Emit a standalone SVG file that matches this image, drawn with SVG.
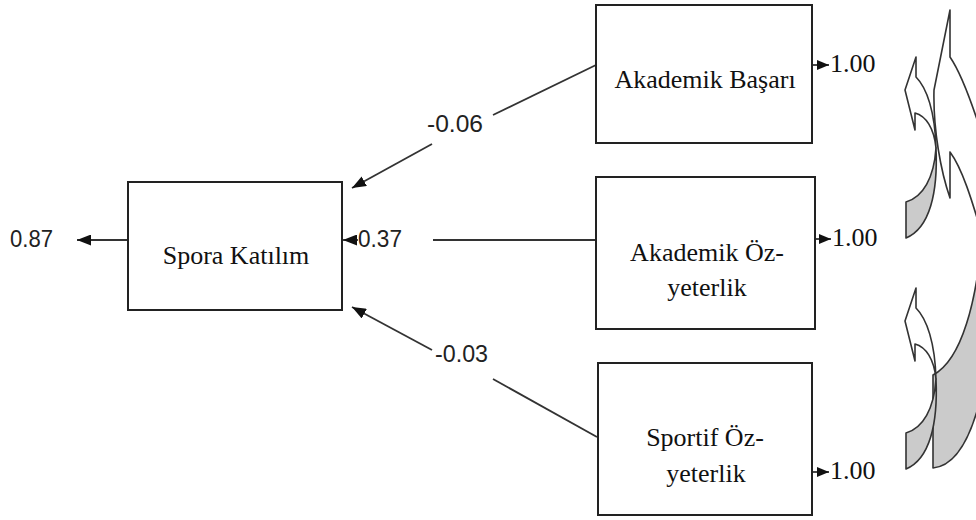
<svg xmlns="http://www.w3.org/2000/svg" width="976" height="520" viewBox="0 0 976 520">
<defs>
<style>
.box{fill:#fff;stroke:#222;stroke-width:2}
.nt{font-family:"Liberation Serif","Times New Roman",serif;font-size:26px;fill:#111;text-anchor:middle}
.lbl{font-family:"Liberation Sans",Arial,sans-serif;font-size:24px;fill:#222}
.val{font-family:"Liberation Serif","Times New Roman",serif;font-size:26px;fill:#111}
.con{fill:none;stroke:#333;stroke-width:1.8}
.front{fill:#fff;stroke:#333;stroke-width:1.6;stroke-linejoin:round}
.back{fill:#cbcbcb;stroke:#333;stroke-width:1.6;stroke-linejoin:round}
</style>
<marker id="ah" viewBox="0 0 14 11" refX="14" refY="5.5" markerWidth="14" markerHeight="11" markerUnits="userSpaceOnUse" orient="auto">
<path d="M0,0 L14,5.5 L0,11 Z" fill="#111"/>
</marker>
<marker id="ahs" viewBox="0 0 12 10" refX="12" refY="5" markerWidth="12" markerHeight="10" markerUnits="userSpaceOnUse" orient="auto">
<path d="M0,0 L12,5 L0,10 Z" fill="#111"/>
</marker>
</defs>
<rect width="976" height="520" fill="#fff"/>

<g id="connectors">
<path class="con" d="M128,240 L77,240" marker-end="url(#ah)"/>
<path class="con" d="M596,240 L433,240"/>
<path class="con" d="M358,240 L343,240" marker-end="url(#ah)"/>
<path class="con" d="M596,65 L493,115"/>
<path class="con" d="M432,144 L352,188" marker-end="url(#ah)"/>
<path class="con" d="M597,437 L493,379"/>
<path class="con" d="M432,350 L352,307" marker-end="url(#ah)"/>
<path class="con" d="M812,65 L829,65" marker-end="url(#ahs)"/>
<path class="con" d="M816,239 L831,239" marker-end="url(#ahs)"/>
<path class="con" d="M812,472 L829,472" marker-end="url(#ahs)"/>
<text class="lbl" x="10" y="247" textLength="43" lengthAdjust="spacingAndGlyphs">0.87</text>
<text class="lbl" x="358" y="247" textLength="44" lengthAdjust="spacingAndGlyphs">0.37</text>
<text class="lbl" x="427" y="132" textLength="56" lengthAdjust="spacingAndGlyphs">-0.06</text>
<text class="lbl" x="435" y="362" textLength="53" lengthAdjust="spacingAndGlyphs">-0.03</text>
<text class="val" x="830" y="72">1.00</text>
<text class="val" x="832" y="246">1.00</text>
<text class="val" x="830" y="479">1.00</text>
</g>

<g id="spora-katilim">
<rect class="box" x="128" y="182" width="214" height="128"/>
<text class="nt" x="236" y="264">Spora Katılım</text>
</g>

<g id="akademik-basari">
<rect class="box" x="596" y="5" width="216" height="138"/>
<text class="nt" x="705" y="88">Akademik Başarı</text>
</g>

<g id="akademik-oz-yeterlik">
<rect class="box" x="596" y="177" width="219" height="152"/>
<text class="nt" x="707" y="261">Akademik Öz-</text>
<text class="nt" x="707" y="296">yeterlik</text>
</g>

<g id="sportif-oz-yeterlik">
<rect class="box" x="598" y="363" width="214" height="152"/>
<text class="nt" x="705" y="446">Sportif Öz-</text>
<text class="nt" x="706" y="482">yeterlik</text>
</g>

<g id="curved-arrows">
<path class="front" d="M950,10 L950,57 C961,73 971,100 982,135 L982,235 C972,200 962,168 950,152 L950,198 C941,172 933,130 934,90 Z"/>
<path class="back" d="M982,235 C977,300 962,360 933,375 L933,468 C956,466 972,436 982,392 Z"/>
<g id="small-arrow-top">
<path class="front" d="M916,57 L916,77 C927,88 935,112 936,148 C934,128 926,116 915,113 L915,130 L905,90 Z"/>
<path class="back" d="M936,148 C938,192 930,228 906,238 L906,202 C923,197 934,178 936,148 Z"/>
</g>
<g id="small-arrow-bottom" transform="translate(0,231)">
<path class="front" d="M916,57 L916,77 C927,88 935,112 936,148 C934,128 926,116 915,113 L915,130 L905,90 Z"/>
<path class="back" d="M936,148 C938,192 930,228 906,238 L906,202 C923,197 934,178 936,148 Z"/>
</g>
</g>
</svg>
